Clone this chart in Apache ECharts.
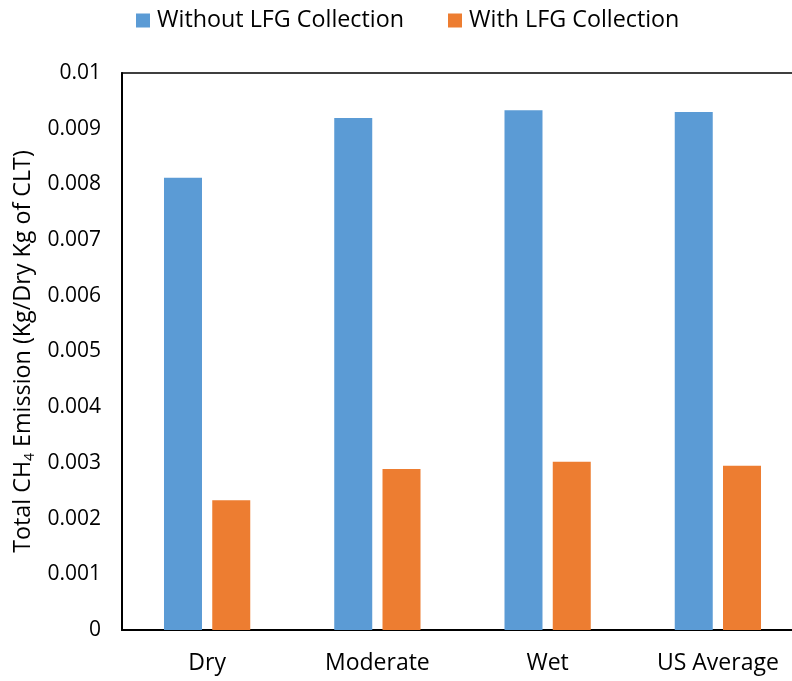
<!DOCTYPE html>
<html>
<head>
<meta charset="utf-8">
<script src="https://cdn.jsdelivr.net/npm/echarts@6/dist/echarts.min.js"></script>
<style>
  html, body { margin: 0; padding: 0; background: #fff; overflow: hidden; }
  /* the plot frame runs past the right edge of the page, so the canvas is wider than the window */
  #chart { width: 815px; height: 681px; }
</style>
</head>
<body>
<div id="chart"></div>
<script>
// Landfill climate scenarios and methane emission per dry kg of CLT
const categories = ['Dry', 'Moderate', 'Wet', 'US Average'];
const withoutLFG = [0.00812, 0.00919, 0.00933, 0.00930];
const withLFG = [0.00233, 0.00289, 0.00302, 0.00295];
const seriesNames = ['Without LFG Collection', 'With LFG Collection'];

const FONT = '"Open Sans", "Liberation Sans", sans-serif';
const chart = echarts.init(document.getElementById('chart'), null, { renderer: 'canvas' });

chart.setOption({
  animation: false,
  textStyle: { fontFamily: FONT },
  color: ['#5B9BD5', '#ED7D31'],
  legend: {
    top: 4,
    left: 131,
    itemWidth: 14,
    itemHeight: 14,
    itemGap: 44,
    icon: 'rect',
    textStyle: { fontSize: 23.3, color: '#000', fontFamily: FONT, padding: [0, 0, 0, 2] },
    data: seriesNames
  },
  grid: {
    left: 122,
    top: 73,
    width: 681,
    height: 557,
    show: true,
    borderColor: '#000',
    borderWidth: 1.5,
    backgroundColor: 'transparent'
  },
  xAxis: {
    type: 'category',
    data: categories,
    axisLine: { lineStyle: { color: '#000', width: 2 } },
    axisTick: { show: false },
    axisLabel: { color: '#000', fontSize: 23, margin: 22, fontFamily: FONT }
  },
  yAxis: {
    type: 'value',
    min: 0,
    max: 0.01,
    interval: 0.001,
    splitLine: { show: false },
    axisLine: { show: true, lineStyle: { color: '#000', width: 2 } },
    axisTick: { show: false },
    axisLabel: {
      color: '#000',
      fontSize: 21,
      margin: 21,
      fontFamily: FONT,
      formatter: v => v === 0 ? '0' : String(+v.toFixed(3))
    },
    name: '{t|Total CH}{s|4}{t| Emission (Kg/Dry Kg of CLT)}',
    nameLocation: 'middle',
    nameGap: 82,
    nameTextStyle: {
      rich: {
        t: { fontSize: 23.3, color: '#000', fontFamily: FONT },
        s: { fontSize: 14, color: '#000', fontFamily: FONT, verticalAlign: 'bottom', padding: [12, 0, 0, 0] }
      }
    }
  },
  series: [
    { name: seriesNames[0], type: 'bar', data: withoutLFG, barWidth: 38, barGap: '27%' },
    { name: seriesNames[1], type: 'bar', data: withLFG, barWidth: 38, barGap: '27%' }
  ]
});
</script>
</body>
</html>
